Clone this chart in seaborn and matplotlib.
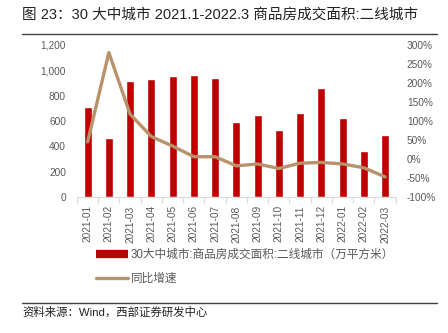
import matplotlib
matplotlib.use("Agg")
import matplotlib.pyplot as plt
import seaborn as sns
import pandas as pd
from matplotlib.lines import Line2D
from matplotlib.ticker import FuncFormatter, MultipleLocator

months = ["2021-01", "2021-02", "2021-03", "2021-04", "2021-05", "2021-06", "2021-07",
          "2021-08", "2021-09", "2021-10", "2021-11", "2021-12", "2022-01", "2022-02", "2022-03"]
area = [713, 468, 918, 929, 955, 963, 939, 590, 650, 529, 666, 863, 624, 361, 489]
yoy = [45, 280, 118, 59, 34, 6, 6, -18, -13, -25, -11, -9, -13, -23, -47]

bar_label = "30大中城市:商品房成交面积:二线城市（万平方米）"
line_label = "同比增速"
title = "图 23：30 大中城市 2021.1-2022.3 商品房成交面积:二线城市"
source = "资料来源：Wind，西部证券研发中心"

df = pd.DataFrame({"month": months, "area": area, "yoy": yoy})

sns.set_theme(style="white")
plt.rcParams["font.family"] = ["Liberation Sans", "Noto Sans CJK SC", "DejaVu Sans"]

BAR = "#C00000"
LINE = "#B8926A"
TXT = "#595959"

fig = plt.figure(figsize=(4.48, 3.33), dpi=100)
ax = fig.add_axes([77 / 448, 1 - 197 / 333, (395.7 - 77) / 448, 152 / 333])

sns.barplot(data=df, x="month", y="area", color=BAR, width=0.38, ax=ax,
            saturation=1, order=months)
ax.set_ylim(0, 1200)
ax.yaxis.set_major_locator(MultipleLocator(200))
ax.yaxis.set_major_formatter(FuncFormatter(lambda v, p: f"{int(v):,}"))
ax.set_xlim(-0.5, len(months) - 0.5)
ax.set_xlabel("")
ax.set_ylabel("")

ax2 = ax.twinx()
sns.lineplot(x=list(range(len(months))), y=df["yoy"].values, color=LINE, linewidth=2.4,
             ax=ax2, legend=False)
ax2.set_ylim(-100, 300)
ax2.yaxis.set_major_locator(MultipleLocator(50))
ax2.yaxis.set_major_formatter(FuncFormatter(lambda v, p: f"{int(v)}%"))
ax2.set_ylabel("")
ax2.set_xlim(-0.5, len(months) - 0.5)

for a in (ax, ax2):
    for s in ["top", "left", "right", "bottom"]:
        a.spines[s].set_visible(False)

ax.spines["bottom"].set_visible(True)
ax.spines["bottom"].set_color("#D9D9D9")
ax.spines["bottom"].set_linewidth(0.8)

ax.set_xticks(range(len(months)))
ax.set_xticklabels(months, rotation=90, fontsize=7.3, color=TXT)
ax.tick_params(axis="x", length=0, pad=6)
ax.set_xticks([i - 0.5 for i in range(len(months) + 1)], minor=True)
ax.tick_params(axis="x", which="minor", length=4, color="#D9D9D9", width=0.8, bottom=True)
ax.tick_params(axis="y", labelsize=7.3, colors=TXT, length=0, pad=8)
ax2.tick_params(axis="y", labelsize=7.3, colors=TXT, length=0, pad=8)
ax.grid(False)
ax2.grid(False)

handles = [Line2D([0], [0], color=BAR, linewidth=6, solid_capstyle="butt"),
           Line2D([0], [0], color=LINE, linewidth=2.4, solid_capstyle="round")]
leg = fig.legend(handles, [bar_label, line_label], loc="upper left",
                 bbox_to_anchor=(96 / 448, 1 - 249 / 333), frameon=False,
                 fontsize=8.4, handlelength=2.7, handletextpad=0.3, labelspacing=1.05,
                 borderaxespad=0, borderpad=0)
for t in leg.get_texts():
    t.set_color(TXT)

fig.text(22 / 448, 1 - 15 / 333, title, fontsize=10.5, color="#222222", va="center", ha="left",
         family=["Liberation Sans", "Noto Sans CJK SC"])
fig.add_artist(Line2D([22 / 448, 437 / 448], [1 - 33.5 / 333, 1 - 33.5 / 333],
                      color="#404040", linewidth=1.0))
fig.add_artist(Line2D([22 / 448, 437 / 448], [1 - 302.7 / 333, 1 - 302.7 / 333],
                      color="#404040", linewidth=1.0))
fig.text(22 / 448, 1 - 312 / 333, source, fontsize=8.2, color="#222222", va="center", ha="left",
         family=["Liberation Sans", "Noto Sans CJK SC"])

fig.savefig("out.png", dpi=100)
